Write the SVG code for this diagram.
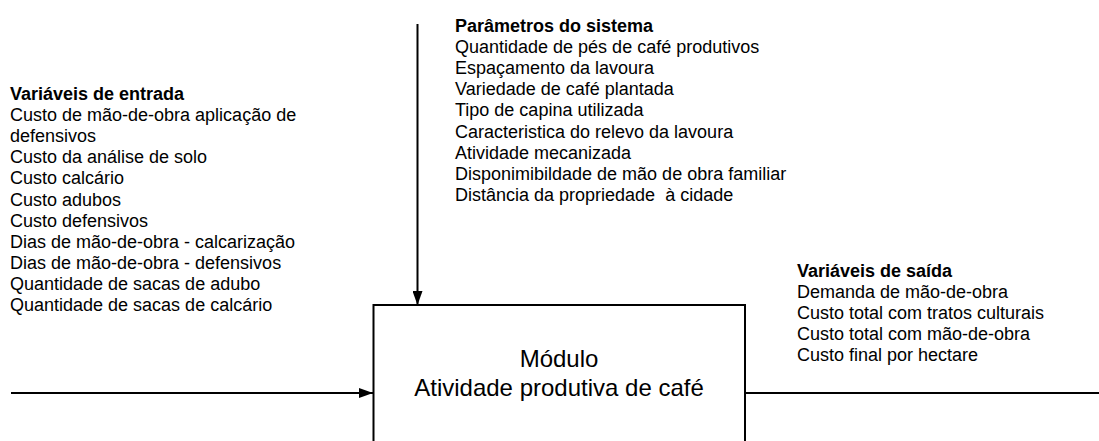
<svg xmlns="http://www.w3.org/2000/svg" width="1099" height="441" viewBox="0 0 1099 441">
<style>
text{font-family:"Liberation Sans",Arial,sans-serif;fill:#000}
.t{font-size:18px}
.b{font-weight:bold}
.m{font-size:24px;text-anchor:middle}
.ln{stroke:#000;stroke-width:2;fill:none}
</style>
<defs>
<marker id="ah" markerWidth="14" markerHeight="10" refX="14" refY="5" orient="auto" markerUnits="userSpaceOnUse">
<path d="M0,0 L14,5 L0,10 Z" fill="#000"/>
</marker>
</defs>
<rect width="1099" height="441" fill="#fff"/>
<g id="connectors">
<line class="ln" x1="417.5" y1="24" x2="417.5" y2="305" marker-end="url(#ah)"/>
<line class="ln" x1="11" y1="393" x2="373" y2="393" marker-end="url(#ah)"/>
<line class="ln" x1="745" y1="393" x2="1099" y2="393"/>
</g>
<g id="modulo">
<rect x="373.5" y="305" width="371.5" height="160" fill="#fff" stroke="#000" stroke-width="2"/>
<text class="m" x="559" y="367">Módulo</text>
<text class="m" x="559" y="395.5">Atividade produtiva de café</text>
</g>
<g id="entrada" class="t">
<text x="10" y="100" class="b">Variáveis de entrada</text>
<text x="10" y="121.1">Custo de mão-de-obra aplicação de</text>
<text x="10" y="142.2">defensivos</text>
<text x="10" y="163.3">Custo da análise de solo</text>
<text x="10" y="184.4">Custo calcário</text>
<text x="10" y="205.5">Custo adubos</text>
<text x="10" y="226.6">Custo defensivos</text>
<text x="10" y="247.7">Dias de mão-de-obra - calcarização</text>
<text x="10" y="268.8">Dias de mão-de-obra - defensivos</text>
<text x="10" y="289.9">Quantidade de sacas de adubo</text>
<text x="10" y="311">Quantidade de sacas de calcário</text>
</g>
<g id="parametros" class="t">
<text x="455" y="32" class="b">Parâmetros do sistema</text>
<text x="455" y="53.1">Quantidade de pés de café produtivos</text>
<text x="455" y="74.2">Espaçamento da lavoura</text>
<text x="455" y="95.3">Variedade de café plantada</text>
<text x="455" y="116.4">Tipo de capina utilizada</text>
<text x="455" y="137.5">Caracteristica do relevo da lavoura</text>
<text x="455" y="158.6">Atividade mecanizada</text>
<text x="455" y="179.7">Disponimibildade de mão de obra familiar</text>
<text x="455" y="200.8" xml:space="preserve">Distância da propriedade  à cidade</text>
</g>
<g id="saida" class="t">
<text x="797" y="277" class="b">Variáveis de saída</text>
<text x="797" y="298">Demanda de mão-de-obra</text>
<text x="797" y="319">Custo total com tratos culturais</text>
<text x="797" y="340">Custo total com mão-de-obra</text>
<text x="797" y="361">Custo final por hectare</text>
</g>
</svg>
